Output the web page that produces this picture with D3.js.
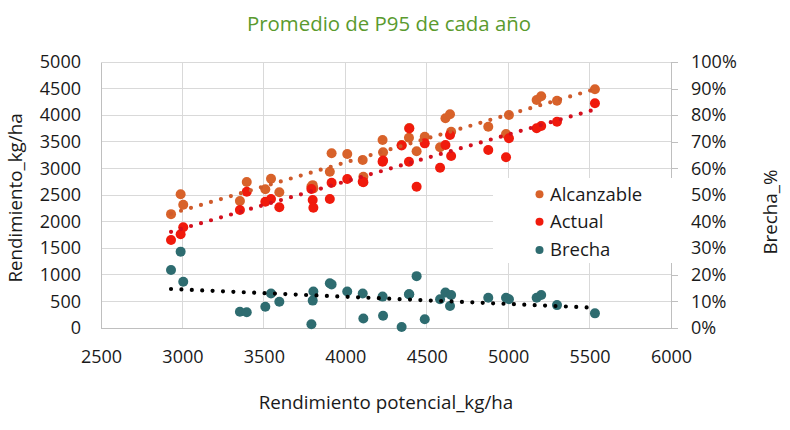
<!DOCTYPE html>
<html><head><meta charset="utf-8">
<script src="https://cdn.jsdelivr.net/npm/d3@7"></script>
<style>body{margin:0;background:#fff}svg{display:block}</style>
</head><body><svg id="c" width="790" height="430"></svg>
<script>
// Rendimiento potencial (kg/ha) of each point
const potencial  = [2930,2989,3005,3353,3395,3509,3544,3595,3792,3800,3804,3905,3916,4012,4107,4111,4229,4232,4346,4391,4393,4438,4488,4582,4615,4643,4650,4878,4987,5005,5175,5203,5300,5533];
// Alcanzable (kg/ha)
const alcanzable = [2140,2513,2318,2387,2744,2607,2806,2551,2660,2685,2625,2938,3284,3271,3158,2844,3534,3302,3440,3577,3760,3321,3596,3396,3942,4017,3690,3784,3647,4004,4286,4355,4273,4487];
// Actual (kg/ha)
const actual     = [1655,1761,1893,2218,2562,2374,2425,2269,2613,2406,2262,2425,2731,2801,2750,2742,3126,3150,3430,3126,3750,2656,3471,3013,3440,3628,3233,3346,3209,3566,3754,3797,3878,4224];
// Brecha (%)
const brecha     = [21.8,28.7,17.4,6.1,5.9,8.0,13.0,9.9,1.4,10.3,13.7,16.8,16.4,13.7,13.0,3.6,11.8,4.6,0.4,12.7,12.7,19.5,3.3,10.8,13.3,8.3,12.4,11.4,11.4,10.8,11.4,12.4,8.6,5.5];

const xTicks   = [2500,3000,3500,4000,4500,5000,5500,6000];
const yTicks   = [0,500,1000,1500,2000,2500,3000,3500,4000,4500,5000];
const pctTicks = [0,10,20,30,40,50,60,70,80,90,100];
const seriesNames = ["Alcanzable","Actual","Brecha"];

const title = "Promedio de P95 de cada año";
const xTitle = "Rendimiento potencial_kg/ha";
const yTitle = "Rendimiento_kg/ha";
const y2Title = "Brecha_%";

const FONT = "'Open Sans', sans-serif";
const svg = d3.select("#c");
const L = 101, R = 671, T = 62, B = 328;
const x  = d3.scaleLinear().domain([2500,6000]).range([L,R]);
const y  = d3.scaleLinear().domain([0,5000]).range([B,T]);
const yp = d3.scaleLinear().domain([0,100]).range([B,T]);

const grid = "#d9d9d9";
svg.append("g").selectAll("line").data(yTicks).join("line")
  .attr("x1",L).attr("x2",R).attr("y1",d=>y(d)).attr("y2",d=>y(d))
  .attr("stroke",grid).attr("stroke-width",1).attr("shape-rendering","crispEdges");
svg.append("g").selectAll("line").data(xTicks).join("line")
  .attr("x1",d=>x(d)).attr("x2",d=>x(d)).attr("y1",T).attr("y2",B)
  .attr("stroke",grid).attr("stroke-width",1).attr("shape-rendering","crispEdges");

const ax = svg.append("g").attr("transform",`translate(0,${B})`)
  .call(d3.axisBottom(x).tickValues(xTicks).tickSize(0).tickPadding(22).tickFormat(d3.format("d")));
const ay = svg.append("g").attr("transform",`translate(${L},0)`)
  .call(d3.axisLeft(y).tickValues(yTicks).tickSize(0).tickPadding(20).tickFormat(d3.format("d")));
const ay2 = svg.append("g").attr("transform",`translate(${R},0)`)
  .call(d3.axisRight(yp).tickValues(pctTicks).tickSize(7).tickPadding(13).tickFormat(d=>d+"%"));
[ax,ay,ay2].forEach(g=>{
  g.selectAll(".domain").attr("stroke","#bfbfbf").attr("shape-rendering","crispEdges");
  g.selectAll("line").attr("stroke","#bfbfbf").attr("shape-rendering","crispEdges");
  g.selectAll("text").attr("font-family",FONT).attr("font-size",18).attr("fill","#1a1a1a");
});

const pts = potencial.map((p,i)=>({p, a:alcanzable[i], r:actual[i], b:brecha[i]}));

function regress(xs, ys){
  const mx=d3.mean(xs), my=d3.mean(ys);
  let num=0, den=0;
  xs.forEach((v,i)=>{num+=(v-mx)*(ys[i]-my); den+=(v-mx)*(v-mx);});
  const m=num/den; return {m, b:my-m*mx};
}
const xmin=d3.min(potencial), xmax=d3.max(potencial);

const cols = {a:"#d8622a", r:"#f01a0c", b:"#2e6c70"};
const trendCols = {a:"#cf5b2c", r:"#d4101e", b:"#000000"};
const RAD = 5;

function drawPts(key, scale){
  svg.append("g").selectAll("circle").data(pts).join("circle")
    .attr("cx",d=>x(d.p)).attr("cy",d=>scale(d[key])).attr("r",RAD)
    .attr("fill",cols[key]);
}
drawPts("a", y); drawPts("r", y); drawPts("b", yp);

function drawTrend(key, scale){
  const fit = regress(potencial, pts.map(d=>d[key]));
  const line = d3.line().x(d=>x(d)).y(d=>scale(fit.m*d+fit.b));
  svg.append("path").datum([xmin,xmax]).attr("d",line)
    .attr("fill","none").attr("stroke",trendCols[key]).attr("stroke-width",4.2)
    .attr("stroke-linecap","round").attr("stroke-dasharray","0 10.4");
}
drawTrend("a", y); drawTrend("r", y); drawTrend("b", yp);

const lg = svg.append("g");
lg.append("rect").attr("x",493).attr("y",178).attr("width",188).attr("height",85).attr("fill","#fff");
const lgY = [194.3,221.7,250];
const lgCol = [cols.a, cols.r, cols.b];
seriesNames.forEach((n,i)=>{
  lg.append("circle").attr("cx",539.5).attr("cy",lgY[i]).attr("r",4).attr("fill",lgCol[i]);
  lg.append("text").attr("x",550).attr("y",lgY[i]).attr("dy","0.35em")
    .attr("font-family",FONT).attr("font-size",18.5).attr("fill","#1a1a1a").text(n);
});

svg.append("text").attr("x",389).attr("y",24).attr("dy","0.35em").attr("text-anchor","middle")
  .attr("font-family",FONT).attr("font-size",20.4).attr("fill","#5a9a2e").text(title);
svg.append("text").attr("x",386).attr("y",402).attr("dy","0.35em").attr("text-anchor","middle")
  .attr("font-family",FONT).attr("font-size",18.8).attr("fill","#1a1a1a").text(xTitle);
svg.append("text").attr("transform","translate(15,198) rotate(-90)").attr("dy","0.35em").attr("text-anchor","middle")
  .attr("font-family",FONT).attr("font-size",18.8).attr("fill","#1a1a1a").text(yTitle);
svg.append("text").attr("transform","translate(770,212) rotate(-90)").attr("dy","0.35em").attr("text-anchor","middle")
  .attr("font-family",FONT).attr("font-size",18.8).attr("fill","#1a1a1a").text(y2Title);
</script></body></html>
